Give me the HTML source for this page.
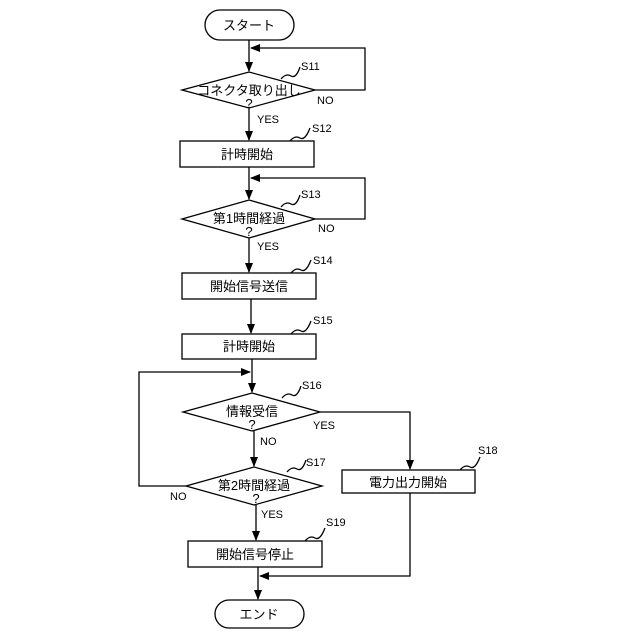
<!DOCTYPE html><html><head><meta charset="utf-8"><style>body{margin:0;background:#fff}svg{display:block}text{font-family:"Liberation Sans","Noto Sans CJK JP",sans-serif;fill:#000}</style></head><body>
<svg width="640" height="640" viewBox="0 0 640 640" xmlns="http://www.w3.org/2000/svg">
<defs><marker id="a" markerWidth="10" markerHeight="10" refX="9" refY="5" orient="auto" markerUnits="userSpaceOnUse"><path d="M0,1 L10,5 L0,9z" fill="#000"/></marker></defs>
<g stroke="#000" stroke-width="1.3" fill="none">
<rect x="205" y="10" width="89" height="30" rx="15" fill="#fff"/>
<line x1="249" y1="40" x2="249" y2="71" marker-end="url(#a)"/>
<polyline points="315,90 365,90 365,48 251,48" marker-end="url(#a)"/>
<polygon points="182,90 249,72 315,90 249,108" fill="#fff"/>
<path d="M281,79 q5,-6 10,-3 q5,3 9,-9"/>
<line x1="249" y1="108" x2="249" y2="140" marker-end="url(#a)"/>
<rect x="180" y="141" width="134" height="26" fill="#fff"/>
<path d="M290,141 q5,-6 10,-3 q5,3 10,-10"/>
<line x1="249" y1="167" x2="249" y2="199" marker-end="url(#a)"/>
<polyline points="315,219 365,219 365,178 251,178" marker-end="url(#a)"/>
<polygon points="182,219 249,200 315,219 249,238" fill="#fff"/>
<path d="M281,207 q5,-6 10,-3 q5,3 9,-9"/>
<line x1="249" y1="238" x2="249" y2="272" marker-end="url(#a)"/>
<rect x="182" y="273" width="134" height="26" fill="#fff"/>
<path d="M291,273 q5,-6 10,-3 q5,3 10,-10"/>
<line x1="251" y1="299" x2="251" y2="333" marker-end="url(#a)"/>
<rect x="182" y="334" width="134" height="25" fill="#fff"/>
<path d="M291,334 q5,-6 10,-3 q5,3 10,-10"/>
<line x1="252" y1="359" x2="252" y2="392" marker-end="url(#a)"/>
<polyline points="186,486 139,486 139,372 250,372" marker-end="url(#a)"/>
<polygon points="183,412 252,393 320,412 252,431" fill="#fff"/>
<path d="M282,398 q5,-6 10,-3 q5,3 9,-9"/>
<polyline points="320,412 410,412 410,469" marker-end="url(#a)"/>
<rect x="342" y="470" width="133" height="23" fill="#fff"/>
<path d="M460,470 q5,-6 10,-3 q5,3 10,-10"/>
<line x1="254" y1="431" x2="254" y2="466" marker-end="url(#a)"/>
<polygon points="186,486 254,467 322,486 254,505" fill="#fff"/>
<path d="M287,472 q5,-6 10,-3 q5,3 9,-9"/>
<line x1="256" y1="505" x2="256" y2="540" marker-end="url(#a)"/>
<rect x="188" y="541" width="134" height="26" fill="#fff"/>
<path d="M305,541 q5,-6 10,-3 q5,3 10,-10"/>
<polyline points="410,493 410,576 260,576" marker-end="url(#a)"/>
<line x1="258" y1="567" x2="258" y2="599" marker-end="url(#a)"/>
<rect x="215" y="600" width="89" height="28" rx="14" fill="#fff"/>
</g>
<g font-size="13" text-anchor="middle">
<text x="249" y="30">スタート</text>
<text x="249" y="95">コネクタ取り出し</text>
<text x="249" y="108">?</text>
<text x="247" y="159">計時開始</text>
<text x="249" y="223">第1時間経過</text>
<text x="249" y="236">?</text>
<text x="249" y="291">開始信号送信</text>
<text x="249" y="351">計時開始</text>
<text x="252" y="416">情報受信</text>
<text x="252" y="429">?</text>
<text x="254" y="490">第2時間経過</text>
<text x="256" y="503">?</text>
<text x="408" y="487">電力出力開始</text>
<text x="255" y="559">開始信号停止</text>
<text x="259" y="619">エンド</text>
</g>
<g font-size="11">
<text x="301" y="70">S11</text><text x="317" y="104">NO</text><text x="257" y="123">YES</text>
<text x="312" y="132">S12</text>
<text x="301" y="198">S13</text><text x="318" y="232">NO</text><text x="257" y="250">YES</text>
<text x="313" y="264">S14</text><text x="313" y="324">S15</text>
<text x="302" y="389">S16</text><text x="313" y="429">YES</text><text x="260" y="445">NO</text>
<text x="478" y="454">S18</text>
<text x="306" y="466">S17</text><text x="170" y="500">NO</text><text x="261" y="518">YES</text>
<text x="326" y="526">S19</text>
</g>
</svg></body></html>
